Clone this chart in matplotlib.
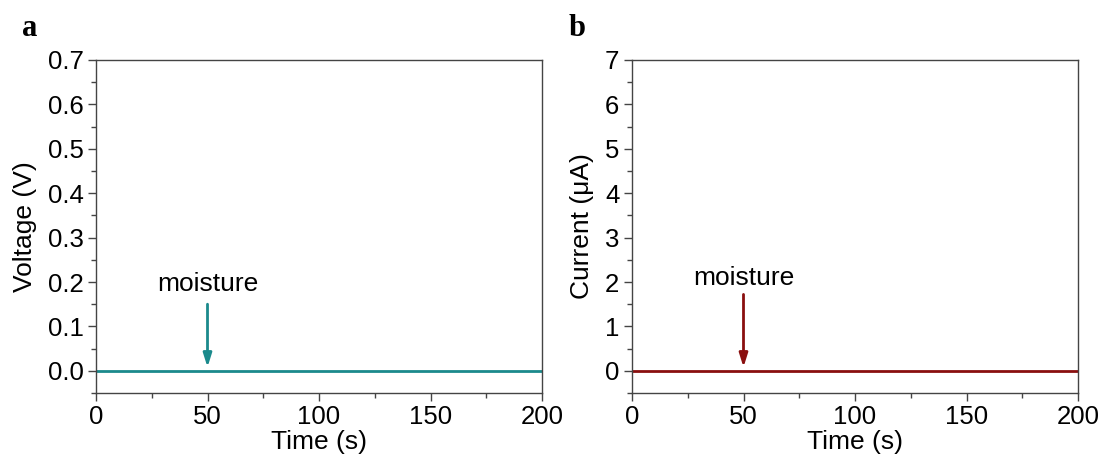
import numpy as np
import matplotlib
matplotlib.use("Agg")
import matplotlib.pyplot as plt
from matplotlib.ticker import MultipleLocator, FormatStrFormatter

plt.rcParams['font.family'] = ['Liberation Sans', 'DejaVu Sans']

# data: flat zero response over 0-200 s
time_s = [0, 50, 100, 150, 200]
voltage_V = [0.0, 0.0, 0.0, 0.0, 0.0]
current_uA = [0.0, 0.0, 0.0, 0.0, 0.0]
moisture_t = 50

teal = '#1b8a8c'
darkred = '#8a0f0f'

fig = plt.figure(figsize=(11.04, 4.61), dpi=100)
ax1 = fig.add_axes([96/1104, 1-393/461, 446/1104, 333/461])
ax2 = fig.add_axes([632/1104, 1-393/461, 446/1104, 333/461])

def style(ax, ymin, ymax, major, ylabel):
    ax.set_xlim(0, 200)
    ax.set_ylim(ymin, ymax)
    ax.xaxis.set_major_locator(MultipleLocator(50))
    ax.xaxis.set_minor_locator(MultipleLocator(25))
    ax.yaxis.set_major_locator(MultipleLocator(major))
    ax.yaxis.set_minor_locator(MultipleLocator(major / 2))
    ax.tick_params(which='both', direction='out', top=False, right=False,
                   labelsize=18.5, color='#444444', width=1.0)
    ax.tick_params(which='major', length=6, pad=3)
    ax.tick_params(which='minor', length=3.5)
    for sp in ax.spines.values():
        sp.set_color('#444444')
        sp.set_linewidth(1.0)
    ax.set_xlabel("Time (s)", fontsize=19, labelpad=0)
    ax.set_ylabel(ylabel, fontsize=19, labelpad=8)

ax1.plot(time_s, voltage_V, color=teal, lw=2)
style(ax1, -0.05, 0.7, 0.1, "Voltage (V)")
ax1.yaxis.set_major_formatter(FormatStrFormatter('%.1f'))
ax1.annotate("", xy=(moisture_t, 0.008), xytext=(moisture_t, 0.15),
             arrowprops=dict(arrowstyle='-|>,head_length=0.8,head_width=0.25',
                             color=teal, lw=2, shrinkA=0, shrinkB=0))
ax1.text(moisture_t, 0.168, "moisture", ha='center', va='bottom', fontsize=19)

ax2.plot(time_s, current_uA, color=darkred, lw=2)
style(ax2, -0.5, 7, 1, "Current (μA)")
ax2.annotate("", xy=(moisture_t, 0.08), xytext=(moisture_t, 1.72),
             arrowprops=dict(arrowstyle='-|>,head_length=0.8,head_width=0.25',
                             color=darkred, lw=2, shrinkA=0, shrinkB=0))
ax2.text(moisture_t, 1.82, "moisture", ha='center', va='bottom', fontsize=19)

fig.text(22/1104, 1-28/461, "a", fontsize=22, fontweight='bold',
         family='Liberation Serif', va='center')
fig.text(569/1104, 1-28/461, "b", fontsize=22, fontweight='bold',
         family='Liberation Serif', va='center')

fig.savefig("out.png", dpi=100)
